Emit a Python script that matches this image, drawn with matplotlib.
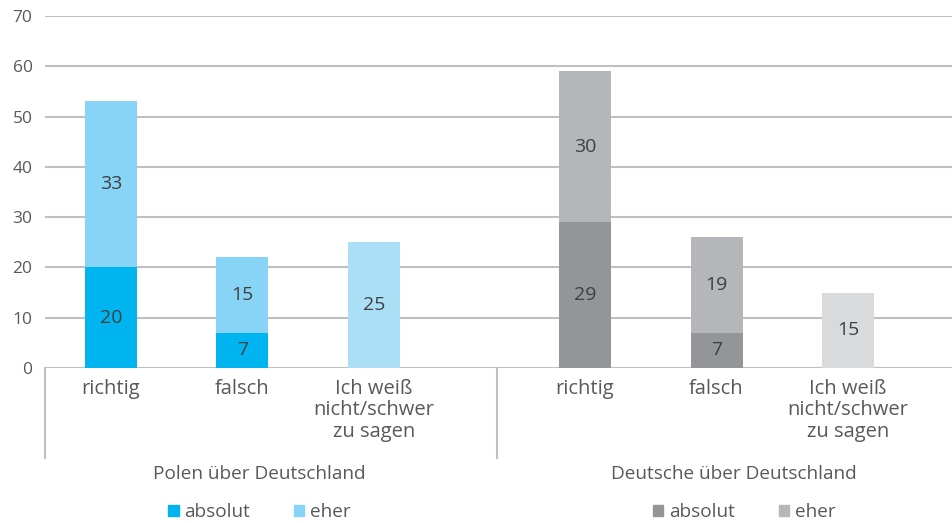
import matplotlib
matplotlib.use("Agg")
import matplotlib.pyplot as plt
from matplotlib.patches import Patch

plt.rcParams['font.family'] = ['Open Sans', 'DejaVu Sans']

# data
categories = ["richtig", "falsch", "Ich weiß\nnicht/schwer\nzu sagen"]
groups = ["Polen über Deutschland", "Deutsche über Deutschland"]
polen_absolut = [20, 7, 0]
polen_eher = [33, 15, 25]
deutsche_absolut = [29, 7, 0]
deutsche_eher = [30, 19, 15]

# layout (slot positions)
pos_polen = [0, 1, 2]
pos_deutsche = [3.605, 4.605, 5.605]
bar_w = 0.395
x_min, x_max = -0.5, 6.395

blue_abs, blue_eher, blue_wn = "#00b5ef", "#87d4f6", "#abdff6"
grey_abs, grey_eher, grey_wn = "#939598", "#b5b6b9", "#d9dadc"
txt = "#595959"
grid = "#c0c0c0"

fig = plt.figure(figsize=(9.52, 5.23), dpi=100)
ax = fig.add_axes([45 / 952, 155 / 523, 907 / 952, 352 / 523])

def draw_group(pos, absolut, eher, c_abs, c_eher, c_wn):
    for i, x in enumerate(pos):
        top_c = c_wn if absolut[i] == 0 else c_eher
        if absolut[i] > 0:
            ax.bar(x, absolut[i], width=bar_w, color=c_abs, zorder=3)
            ax.text(x, absolut[i] / 2, str(absolut[i]), ha="center", va="center",
                    fontsize=14, color="#404040", zorder=4)
        ax.bar(x, eher[i], width=bar_w, bottom=absolut[i], color=top_c, zorder=3)
        ax.text(x, absolut[i] + eher[i] / 2, str(eher[i]), ha="center", va="center",
                fontsize=14, color="#404040", zorder=4)

draw_group(pos_polen, polen_absolut, polen_eher, blue_abs, blue_eher, blue_wn)
draw_group(pos_deutsche, deutsche_absolut, deutsche_eher, grey_abs, grey_eher, grey_wn)

ax.set_xlim(x_min, x_max)
ax.set_ylim(0, 70)
ax.set_yticks(range(0, 71, 10))
ax.tick_params(axis="y", length=0, labelsize=12.5, labelcolor=txt, pad=9)
ax.set_xticks([])
for s in ax.spines.values():
    s.set_visible(False)
ax.yaxis.grid(True, color=grid, linewidth=1.5, zorder=0)
ax.set_axisbelow(True)
ax.axhline(0, color=grid, linewidth=1.5, zorder=2)

# category and group labels
trans = ax.get_xaxis_transform()
for pos in (pos_polen, pos_deutsche):
    for x, c in zip(pos, categories):
        ax.text(x, -0.032, c, transform=trans, ha="center", va="top",
                fontsize=14.5, color=txt, linespacing=1.08)
ax.text(pos_polen[1] + 0.13, -0.302, groups[0], transform=trans, ha="center",
        va="center", fontsize=13.7, color=txt)
ax.text(pos_deutsche[1] + 0.13, -0.302, groups[1], transform=trans, ha="center",
        va="center", fontsize=13.7, color=txt)

# group separators below the axis
for xs in (x_min, 2.935):
    ax.plot([xs, xs], [0, -0.256], transform=trans, color=grid, linewidth=1.5,
            clip_on=False)

# legends
span = x_max - x_min
leg_kw = dict(loc="center", ncol=2, frameon=False, fontsize=13.7, labelcolor=txt,
              handlelength=0.55, handleheight=0.55, handletextpad=0.3,
              columnspacing=2.3)
leg1 = ax.legend(handles=[Patch(color=blue_abs, label="absolut"),
                          Patch(color=blue_eher, label="eher")],
                 bbox_to_anchor=((pos_polen[1] + 0.13 - x_min) / span, -0.41), **leg_kw)
ax.add_artist(leg1)
ax.legend(handles=[Patch(color=grey_abs, label="absolut"),
                   Patch(color=grey_eher, label="eher")],
          bbox_to_anchor=((pos_deutsche[1] + 0.21 - x_min) / span, -0.41), **leg_kw)

fig.savefig("out.png", dpi=100)
